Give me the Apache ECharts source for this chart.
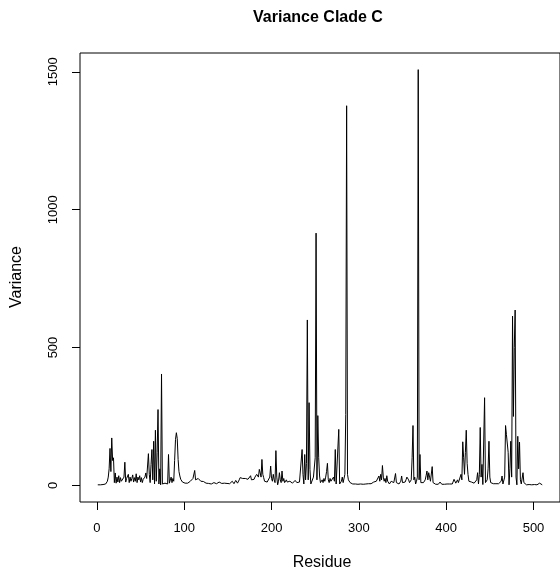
<!DOCTYPE html>
<html>
<head>
<meta charset="utf-8">
<title>Variance Clade C</title>
<script src="https://cdn.jsdelivr.net/npm/echarts@6/dist/echarts.min.js"></script>
<style>
  html, body { margin: 0; padding: 0; background: #fff; }
  #chart { width: 560px; height: 574px; }
</style>
</head>
<body>
<div id="chart"></div>
<script>
// variance per residue, residues 1..510
const variance = [
  2, 2, 2, 2, 2, 2, 3, 3, 4, 5,
  8, 15, 30, 60, 134, 50, 172, 90, 100, 10,
  45, 8, 30, 12, 35, 10, 28, 15, 22, 8,
  30, 84, 12, 25, 18, 40, 10, 30, 15, 25,
  38, 12, 28, 15, 42, 10, 30, 20, 35, 12,
  28, 10, 22, 15, 30, 45, 25, 20, 115, 40,
  10, 75, 130, 20, 160, 5, 200, 15, 120, 275,
  5, 60, 2, 404, 5, 2, 5, 8, 3, 10,
  5, 112, 8, 15, 30, 10, 25, 15, 90, 166,
  191, 170, 94, 50, 34, 22, 16, 12, 10, 10,
  8, 9, 10, 8, 10, 12, 15, 12, 18, 25,
  30, 54, 20, 15, 22, 25, 18, 22, 15, 18,
  12, 14, 10, 12, 8, 10, 8, 7, 6, 8,
  5, 7, 6, 10, 7, 5, 6, 8, 5, 12,
  6, 5, 7, 5, 6, 8, 5, 10, 7, 5,
  8, 6, 12, 7, 15, 8, 6, 10, 18, 12,
  8, 10, 20, 28, 35, 30, 25, 32, 20, 25,
  18, 30, 22, 15, 28, 35, 20, 25, 18, 22,
  30, 25, 40, 35, 30, 58, 45, 30, 94, 40,
  28, 15, 10, 20, 12, 10, 15, 30, 70, 25,
  15, 40, 20, 10, 126, 30, 2, 15, 46, 20,
  10, 52, 15, 25, 10, 15, 20, 12, 18, 10,
  15, 20, 12, 8, 15, 10, 18, 12, 10, 15,
  8, 12, 10, 8, 130, 40, 5, 112, 20, 80,
  600, 20, 300, 58, 5, 2, 10, 30, 30, 100,
  915, 20, 253, 100, 34, 10, 15, 20, 10, 25,
  15, 30, 50, 80, 20, 10, 25, 15, 20, 10,
  30, 15, 130, 5, 10, 3, 203, 5, 10, 15,
  30, 10, 5, 40, 257, 1377, 40, 20, 15, 10,
  8, 6, 5, 5, 4, 5, 4, 3, 4, 5,
  4, 5, 4, 3, 4, 5, 6, 5, 4, 5,
  6, 5, 4, 6, 8, 10, 12, 15, 10, 15,
  20, 12, 34, 15, 40, 20, 72, 30, 15, 25,
  10, 35, 15, 20, 5, 10, 15, 10, 20, 10,
  15, 43, 10, 5, 8, 5, 10, 15, 34, 10,
  5, 8, 12, 20, 30, 35, 20, 10, 5, 20,
  100, 217, 20, 30, 5, 15, 30, 1508, 20, 112,
  10, 5, 8, 10, 5, 20, 35, 52, 20, 46,
  30, 15, 20, 68, 10, 5, 5, 4, 6, 5,
  4, 6, 12, 5, 4, 5, 6, 4, 5, 8,
  5, 4, 6, 5, 10, 6, 5, 8, 22, 15,
  8, 12, 20, 10, 8, 15, 40, 20, 158, 100,
  40, 120, 200, 80, 40, 15, 10, 8, 12, 5,
  10, 8, 15, 10, 20, 46, 5, 40, 210, 30,
  76, 3, 5, 318, 10, 3, 20, 60, 160, 30,
  10, 8, 5, 6, 5, 4, 6, 5, 8, 6,
  5, 10, 15, 34, 5, 4, 30, 217, 184, 191,
  120, 2, 60, 160, 30, 614, 250, 500, 636, 30,
  2, 178, 60, 157, 20, 5, 10, 46, 10, 3,
  3, 2, 3, 2, 3, 2, 3, 2, 3, 2,
  3, 2, 3, 2, 4, 6, 8, 4, 3, 2
];
const xTicks = [0, 100, 200, 300, 400, 500];
const yTicks = [0, 500, 1000, 1500];

const chart = echarts.init(document.getElementById('chart'));
const font = 'Liberation Sans, Arial, Helvetica, sans-serif';

// R style axis range: data range padded by 4% on each side
const xMin = 1 - 0.04 * (variance.length - 1);
const xMax = variance.length + 0.04 * (variance.length - 1);
const yMin = -0.04 * 1508;
const yMax = 1508 * 1.04;

const option = {
  animation: false,
  backgroundColor: '#fff',
  grid: {
    left: 80, top: 53, right: -5, bottom: 72,
    show: true, borderColor: '#000', borderWidth: 1
  },
  xAxis: {
    type: 'value', min: xMin, max: xMax,
    axisLine: { show: false, onZero: false },
    splitLine: { show: false },
    axisTick: { show: true, length: 8, customValues: xTicks, lineStyle: { color: '#000' } },
    axisLabel: { customValues: xTicks, margin: 20, color: '#000', fontSize: 13, fontFamily: font,
      formatter: v => String(v) }
  },
  yAxis: {
    type: 'value', min: yMin, max: yMax,
    axisLine: { show: false, onZero: false },
    splitLine: { show: false },
    axisTick: { show: true, length: 8, customValues: yTicks, lineStyle: { color: '#000' } },
    axisLabel: { customValues: yTicks, margin: 20, rotate: 90, color: '#000', fontSize: 13, fontFamily: font,
      formatter: v => String(v) }
  },
  graphic: [
    { type: 'text', x: 318, y: 18,
      style: { text: 'Variance Clade C', fill: '#000', font: 'bold 16px ' + font, textAlign: 'center', textVerticalAlign: 'middle' } },
    { type: 'text', x: 322, y: 563,
      style: { text: 'Residue', fill: '#000', font: '16px ' + font, textAlign: 'center', textVerticalAlign: 'middle' } },
    { type: 'text', x: 17, y: 277, rotation: Math.PI / 2,
      style: { text: 'Variance', fill: '#000', font: '16px ' + font, textAlign: 'center', textVerticalAlign: 'middle' } }
  ],
  series: [{
    type: 'line',
    data: variance.map((v, i) => [i + 1, v]),
    showSymbol: false,
    lineStyle: { color: '#000', width: 1 },
    silent: true
  }]
};
chart.setOption(option);
</script>
</body>
</html>
